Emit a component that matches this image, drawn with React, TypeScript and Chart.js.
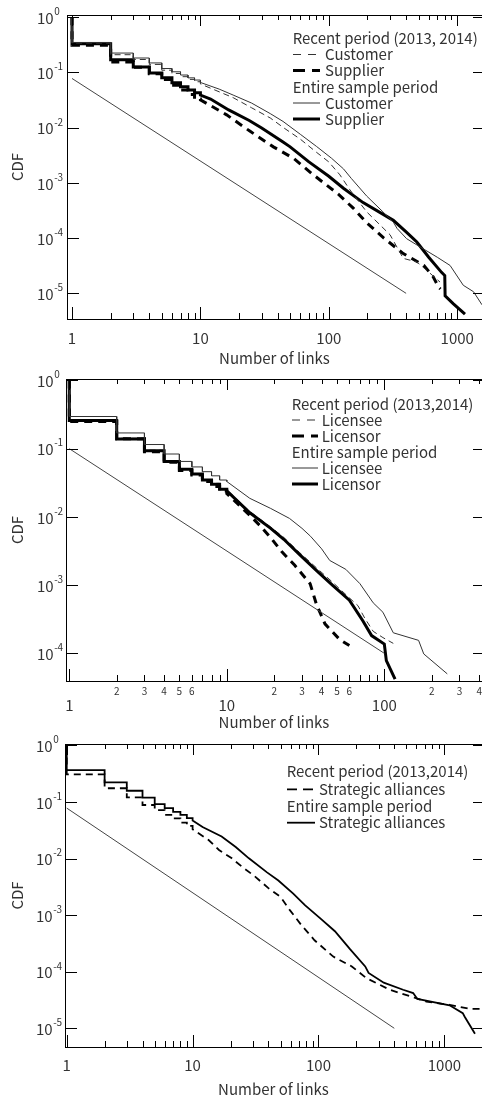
import React, { useEffect, useRef } from 'react';
import { Chart, registerables } from 'chart.js';

Chart.register(...registerables);

const FONT = "'Noto Sans CJK JP', 'DejaVu Sans', sans-serif";
const TEXT = '#333';

// ---------- Panel 1: customer / supplier ----------
const p1YTicks = [1, 0.1, 0.01, 1e-3, 1e-4, 1e-5];
const p1XTicks = [1, 10, 100, 1000];

const p1CustEntireSteps = [0.35, 0.225, 0.183, 0.149, 0.118, 0.103, 0.09, 0.08, 0.073];
const p1CustEntireTailX = [10, 14, 18, 25, 35, 44, 60, 80, 105, 130, 150, 197, 260, 318, 340, 403, 544, 700, 880, 1115, 1340, 1560];
const p1CustEntireTailY = [0.066, 0.05, 0.039, 0.028, 0.018, 0.013, 0.0076, 0.0046, 0.0028, 0.0018, 0.0012, 5.8e-4, 3.1e-4, 1.95e-4, 1.5e-4, 9.8e-5, 6.4e-5, 4.5e-5, 3.2e-5, 1.4e-5, 1.07e-5, 6.2e-6];

const p1CustRecentSteps = [0.34, 0.21, 0.172, 0.14, 0.11, 0.096, 0.084, 0.075, 0.068];
const p1CustRecentTailX = [10, 18, 25, 35, 45, 60, 80, 100, 122, 146, 175, 197, 300, 380, 485, 580, 735];
const p1CustRecentTailY = [0.062, 0.035, 0.023, 0.015, 0.0098, 0.0062, 0.0036, 0.0024, 0.0014, 7.5e-4, 4.3e-4, 3.0e-4, 1.15e-4, 4.3e-5, 3.7e-5, 2.6e-5, 1.6e-5];

const p1SupEntireSteps = [0.33, 0.171, 0.126, 0.098, 0.08, 0.065, 0.055, 0.048, 0.043];
const p1SupEntireTailX = [10, 12, 16.6, 24, 30, 44, 50, 70, 100, 130, 185, 318, 400, 485, 600, 755, 800, 805, 930, 1150];
const p1SupEntireTailY = [0.039, 0.033, 0.021, 0.0135, 0.0099, 0.0055, 0.0045, 0.0024, 0.00132, 8e-4, 4.4e-4, 2.1e-4, 1.3e-4, 8.5e-5, 4.5e-5, 2.4e-5, 2.1e-5, 9e-6, 6.5e-6, 4.2e-6];

const p1SupRecentSteps = [0.31, 0.155, 0.124, 0.095, 0.075, 0.059, 0.048, 0.04, 0.033];
const p1SupRecentTailX = [10, 16, 24.4, 37, 53, 75, 118, 155, 197, 266, 380, 550, 650, 715, 740];
const p1SupRecentTailY = [0.032, 0.0171, 0.0086, 0.0045, 0.0028, 0.00143, 6.3e-4, 3.5e-4, 1.9e-4, 1.02e-4, 5.25e-5, 3.2e-5, 2.0e-5, 1.3e-5, 1.2e-5];

const p1RefX = [1, 400];
const p1RefY = [0.078, 1e-5];

// ---------- Panel 2: licensee / licensor ----------
const p2YTicks = [1, 0.1, 0.01, 1e-3, 1e-4];
const p2XTicks = [1, 2, 3, 4, 5, 6, 10, 20, 30, 40, 50, 60, 100, 200, 300, 400];
const p2MajorTicks = [1, 10, 100];

const p2LiceeEntireSteps = [0.296, 0.17, 0.115, 0.0835, 0.065, 0.054, 0.046, 0.04, 0.0347];
const p2LiceeEntireTailX = [10, 14, 19, 25, 30, 34, 40, 45, 57, 70, 85, 98, 114, 165, 178, 251];
const p2LiceeEntireTailY = [0.033, 0.0187, 0.0133, 0.0095, 0.0068, 0.0052, 0.0034, 0.0023, 0.0017, 0.00105, 5.5e-4, 4.0e-4, 2.0e-4, 1.55e-4, 9.8e-5, 5.0e-5];

const p2LicorEntireSteps = [0.258, 0.139, 0.0935, 0.065, 0.05, 0.0425, 0.0347, 0.03, 0.0255];
const p2LicorEntireTailX = [10, 14, 19, 23, 29, 37, 47, 60, 73, 83, 100, 103, 117];
const p2LicorEntireTailY = [0.024, 0.0115, 0.0068, 0.0047, 0.0028, 0.00164, 9.9e-4, 6.0e-4, 3.0e-4, 1.82e-4, 1.37e-4, 7.8e-5, 4.2e-5];

const p2LiceeRecentSteps = [0.262, 0.142, 0.095, 0.066, 0.051, 0.043, 0.035, 0.031, 0.026];
const p2LiceeRecentTailX = [10, 14, 19, 23, 29, 37, 47, 60, 68, 75, 85, 98, 114];
const p2LiceeRecentTailY = [0.025, 0.012, 0.0071, 0.005, 0.003, 0.0018, 0.0011, 6.5e-4, 5.0e-4, 3.3e-4, 2.1e-4, 1.7e-4, 1.4e-4];

const p2LicorRecentSteps = [0.25, 0.14, 0.09, 0.063, 0.048, 0.041, 0.033, 0.028, 0.024];
const p2LicorRecentTailX = [10, 14, 16.2, 19.2, 22.3, 27, 33.8, 37, 42, 52, 60];
const p2LicorRecentTailY = [0.022, 0.0105, 0.0075, 0.0048, 0.0031, 0.00195, 0.00105, 5.3e-4, 2.7e-4, 1.6e-4, 1.3e-4];

const p2RefX = [1, 100];
const p2RefY = [0.1, 1e-4];

// ---------- Panel 3: strategic alliances ----------
const p3YTicks = [1, 0.1, 0.01, 1e-3, 1e-4, 1e-5];
const p3XTicks = [1, 10, 100, 1000];

const p3EntireSteps = [0.367, 0.223, 0.158, 0.119, 0.092, 0.078, 0.067, 0.059, 0.052];
const p3EntireTailX = [10, 12, 17, 22, 28, 39, 48, 63, 78, 105, 135, 178, 235, 250, 330, 470, 565, 610, 1100, 1400, 1450, 1750];
const p3EntireTailY = [0.047, 0.036, 0.0245, 0.016, 0.0101, 0.0057, 0.0041, 0.0024, 0.0015, 8.5e-4, 5.2e-4, 2.5e-4, 1.24e-4, 9.5e-5, 6.4e-5, 4.8e-5, 4.2e-5, 3.3e-5, 2.55e-5, 1.85e-5, 1.6e-5, 8e-6];

const p3RecentSteps = [0.308, 0.175, 0.121, 0.0885, 0.072, 0.059, 0.0515, 0.043, 0.0377];
const p3RecentTailX = [10, 13.4, 16.2, 20.5, 24.6, 31, 40, 50, 59, 73, 93, 131, 184, 240, 368, 530, 720, 1100, 1590, 1990];
const p3RecentTailY = [0.033, 0.0213, 0.0142, 0.0101, 0.0072, 0.0049, 0.003, 0.0021, 0.00124, 6.7e-4, 3.6e-4, 1.85e-4, 1.24e-4, 7.7e-5, 4.8e-5, 3.7e-5, 2.96e-5, 2.6e-5, 2.2e-5, 2.2e-5];

const p3RefX = [1, 400];
const p3RefY = [0.078, 1e-5];

// ---------- helpers ----------
// CDF starts at 1 at x = 1; integer steps, then the tail points.
function cdf(steps: number[], tailX: number[], tailY: number[]) {
  const pts: { x: number; y: number }[] = [{ x: 1, y: 1 }];
  steps.forEach((lv, i) => {
    pts.push({ x: i + 1, y: lv });
    pts.push({ x: i + 2, y: lv });
  });
  tailX.forEach((x, i) => pts.push({ x, y: tailY[i] }));
  return pts;
}
const pairs = (xs: number[], ys: number[]) => xs.map((x, i) => ({ x, y: ys[i] }));

const STY = {
  thin: { borderColor: '#333', borderWidth: 1, borderDash: [] as number[] },
  thinDash: { borderColor: '#333', borderWidth: 1, borderDash: [6, 4] },
  thick: { borderColor: '#000', borderWidth: 3, borderDash: [] as number[] },
  thickDash: { borderColor: '#000', borderWidth: 3, borderDash: [8, 6] },
  mid: { borderColor: '#000', borderWidth: 1.8, borderDash: [] as number[] },
  midDash: { borderColor: '#000', borderWidth: 1.8, borderDash: [7, 5] },
  ref: { borderColor: '#444', borderWidth: 1, borderDash: [] as number[] },
};

function ds(data: any[], sty: any) {
  return { data, ...sty, pointRadius: 0, fill: false, tension: 0, borderJoinStyle: 'miter' };
}

type LegendRow = { text: string; sty?: any; legendDash?: number[] };

const PANELS = [
  {
    top: 0, height: 368, padTop: 15, yW: 67, xH: 49,
    xMin: 0.914, xMax: 1560, yMin: 3.43e-6, yMax: 1.1,
    xTicks: p1XTicks, majors: p1XTicks, yTicks: p1YTicks, xTickPad: 10, titlePadB: 2.5, labX: 37,
    datasets: [
      ds(pairs(p1RefX, p1RefY), STY.ref),
      ds(cdf(p1CustEntireSteps, p1CustEntireTailX, p1CustEntireTailY), STY.thin),
      ds(cdf(p1CustRecentSteps, p1CustRecentTailX, p1CustRecentTailY), STY.thinDash),
      ds(cdf(p1SupRecentSteps, p1SupRecentTailX, p1SupRecentTailY), STY.thickDash),
      ds(cdf(p1SupEntireSteps, p1SupEntireTailX, p1SupEntireTailY), STY.thick),
    ],
    legend: {
      hx: 292.7, s1: 293, s2: 320, tx: 325, ys: [38.5, 54.5, 70.5, 87, 103, 119],
      rows: [
        { text: 'Recent period (2013, 2014)' },
        { text: 'Customer', sty: STY.thinDash, legendDash: [8, 7] },
        { text: 'Supplier', sty: STY.thickDash, legendDash: [12, 7] },
        { text: 'Entire sample period' },
        { text: 'Customer', sty: STY.thin },
        { text: 'Supplier', sty: STY.thick },
      ] as LegendRow[],
    },
  },
  {
    top: 368, height: 362, padTop: 11, yW: 66, xH: 49,
    xMin: 0.953, xMax: 417, yMin: 3.93e-5, yMax: 1.05,
    xTicks: p2XTicks, majors: p2MajorTicks, yTicks: p2YTicks, xTickPad: 4, titlePadB: 0, labX: 37,
    datasets: [
      ds(pairs(p2RefX, p2RefY), STY.ref),
      ds(cdf(p2LiceeEntireSteps, p2LiceeEntireTailX, p2LiceeEntireTailY), STY.thin),
      ds(cdf(p2LicorRecentSteps, p2LicorRecentTailX, p2LicorRecentTailY), STY.thickDash),
      ds(cdf(p2LicorEntireSteps, p2LicorEntireTailX, p2LicorEntireTailY), STY.thick),
      ds(cdf(p2LiceeRecentSteps, p2LiceeRecentTailX, p2LiceeRecentTailY), STY.thinDash),
    ],
    legend: {
      hx: 291.7, s1: 292, s2: 318, tx: 321.7, ys: [36, 52, 68, 84, 100, 116],
      rows: [
        { text: 'Recent period (2013,2014)' },
        { text: 'Licensee', sty: STY.thinDash, legendDash: [8, 7] },
        { text: 'Licensor', sty: STY.thickDash, legendDash: [12, 7] },
        { text: 'Entire sample period' },
        { text: 'Licensee', sty: STY.thin },
        { text: 'Licensor', sty: STY.thick },
      ] as LegendRow[],
    },
  },
  {
    top: 730, height: 367, padTop: 14, yW: 65, xH: 50,
    xMin: 0.969, xMax: 1990, yMin: 4.67e-6, yMax: 1.059,
    xTicks: p3XTicks, majors: p3XTicks, yTicks: p3YTicks, xTickPad: 9, titlePadB: 0, labX: 36,
    datasets: [
      ds(pairs(p3RefX, p3RefY), STY.ref),
      ds(cdf(p3RecentSteps, p3RecentTailX, p3RecentTailY), STY.midDash),
      ds(cdf(p3EntireSteps, p3EntireTailX, p3EntireTailY), STY.mid),
    ],
    legend: {
      hx: 286.7, s1: 287, s2: 315, tx: 319, ys: [41.7, 59.3, 76, 92.7],
      rows: [
        { text: 'Recent period (2013,2014)' },
        { text: 'Strategic alliances', sty: STY.midDash, legendDash: [10, 6] },
        { text: 'Entire sample period' },
        { text: 'Strategic alliances', sty: STY.mid },
      ] as LegendRow[],
    },
  },
];

function framePlugin(spec: any) {
  return {
    id: 'frame',
    afterDraw(chart: any) {
      const { ctx, chartArea: a } = chart;
      const xs = chart.scales.x;
      const ys = chart.scales.y;
      ctx.save();
      ctx.strokeStyle = '#000';
      ctx.lineWidth = 1;
      ctx.setLineDash([]);
      const line = (x1: number, y1: number, x2: number, y2: number) => {
        ctx.beginPath();
        ctx.moveTo(x1, y1);
        ctx.lineTo(x2, y2);
        ctx.stroke();
      };
      // top border
      const ty = Math.round(a.top) + 0.5;
      line(a.left, ty, a.right, ty);
      // x inner ticks (top + bottom)
      const d0 = Math.floor(Math.log10(xs.min));
      const d1 = Math.ceil(Math.log10(xs.max));
      for (let d = d0; d <= d1; d++) {
        for (let m = 1; m <= 9; m++) {
          const v = m * Math.pow(10, d);
          if (v < xs.min || v > xs.max) continue;
          const px = Math.round(xs.getPixelForValue(v)) + 0.5;
          const major = m === 1;
          line(px, a.bottom, px, a.bottom - (major ? 12 : 6));
          line(px, a.top, px, a.top + (major ? 11 : 5));
        }
      }
      // y inner ticks (left + right) and power-of-ten labels
      ctx.fillStyle = TEXT;
      ctx.textBaseline = 'middle';
      ctx.textAlign = 'left';
      spec.yTicks.forEach((v: number) => {
        const yv = ys.getPixelForValue(v);
        const py = Math.round(yv) + 0.5;
        line(a.left, py, a.left + 12, py);
        line(a.right, py, a.right - 9, py);
        ctx.font = `15px ${FONT}`;
        const base = '10';
        ctx.fillText(base, spec.labX, yv + 1);
        const w = ctx.measureText(base).width;
        ctx.font = `10px ${FONT}`;
        ctx.fillText(String(Math.round(Math.log10(v))), spec.labX + w + 0.5, yv - 6);
      });
      // legend
      const L = spec.legend;
      ctx.font = `15px ${FONT}`;
      L.rows.forEach((r: LegendRow, i: number) => {
        const y = L.ys[i];
        if (!r.sty) {
          ctx.fillText(r.text, L.hx, y);
          return;
        }
        ctx.strokeStyle = r.sty.borderColor;
        ctx.lineWidth = r.sty.borderWidth;
        ctx.setLineDash(r.legendDash || []);
        ctx.lineCap = 'butt';
        line(L.s1, y, L.s2, y);
        ctx.setLineDash([]);
        ctx.fillText(r.text, L.tx, y);
      });
      ctx.restore();
    },
  };
}

function buildConfig(spec: any): any {
  const isMajor = (v: number) => spec.majors.includes(v);
  const twoRow = spec.majors.length !== spec.xTicks.length;
  return {
    type: 'line',
    data: { datasets: spec.datasets },
    options: {
      animation: false,
      responsive: false,
      devicePixelRatio: 1,
      events: [],
      layout: { padding: { top: spec.padTop, left: 0, right: 0, bottom: 0 } },
      plugins: { legend: { display: false }, tooltip: { enabled: false } },
      scales: {
        x: {
          type: 'logarithmic',
          min: spec.xMin,
          max: spec.xMax,
          bounds: 'data',
          afterBuildTicks: (s: any) => {
            s.ticks = spec.xTicks.map((v: number) => ({ value: v }));
          },
          afterFit: (s: any) => {
            s.height = spec.xH;
            s.paddingLeft = 0;
            s.paddingRight = 0;
          },
          grid: { display: false, drawTicks: false },
          border: { display: true, color: '#000', width: 1 },
          ticks: {
            autoSkip: false,
            maxRotation: 0,
            minRotation: 0,
            padding: spec.xTickPad,
            color: TEXT,
            font: (c: any) => {
              const v = c.tick ? c.tick.value : 1;
              if (twoRow && !isMajor(v)) return { family: FONT, size: 10, lineHeight: 1.2 };
              return { family: FONT, size: 15, lineHeight: twoRow ? 0.91 : 1.2 };
            },
            callback: (v: number) => {
              const s = String(v);
              if (twoRow && isMajor(v)) return ['', s];
              return twoRow ? s.charAt(0) : s;
            },
          },
          title: {
            display: true,
            text: 'Number of links',
            color: TEXT,
            font: { family: FONT, size: 15, lineHeight: 1.0 },
            padding: { top: 0, bottom: spec.titlePadB },
          },
        },
        y: {
          type: 'logarithmic',
          min: spec.yMin,
          max: spec.yMax,
          bounds: 'data',
          afterBuildTicks: (s: any) => {
            s.ticks = spec.yTicks.map((v: number) => ({ value: v }));
          },
          afterFit: (s: any) => {
            s.width = spec.yW;
            s.paddingTop = 0;
            s.paddingBottom = 0;
          },
          grid: { display: false, drawTicks: false },
          border: { display: true, color: '#000', width: 1 },
          ticks: { display: false },
          title: {
            display: true,
            text: 'CDF',
            color: TEXT,
            font: { family: FONT, size: 15, lineHeight: 1.0 },
            padding: { top: 10, bottom: 0 },
          },
        },
      },
    },
    plugins: [framePlugin(spec)],
  };
}

function Panel({ spec }: { spec: any }) {
  const ref = useRef<HTMLCanvasElement>(null);
  useEffect(() => {
    const chart = new Chart(ref.current as HTMLCanvasElement, buildConfig(spec));
    return () => chart.destroy();
  }, [spec]);
  return (
    <div style={{ position: 'absolute', left: 0, top: spec.top, width: 482, height: spec.height }}>
      <canvas ref={ref} width={482} height={spec.height} style={{ display: 'block', width: 482, height: spec.height }} />
    </div>
  );
}

export default function App() {
  return (
    <div style={{ position: 'absolute', left: 0, top: 0, width: 482, height: 1097, background: '#fff' }}>
      {PANELS.map((p, i) => (
        <Panel key={i} spec={p} />
      ))}
    </div>
  );
}
